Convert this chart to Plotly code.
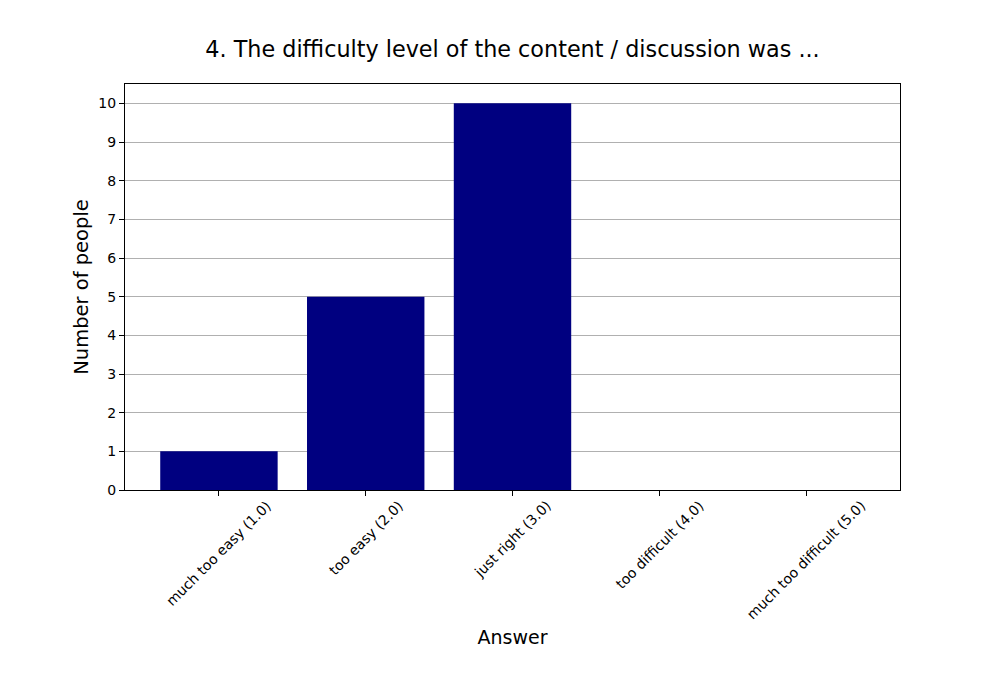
import plotly.graph_objects as go

# Survey answers and counts.
answers = ["much too easy (1.0)", "too easy (2.0)", "just right (3.0)",
           "too difficult (4.0)", "much too difficult (5.0)"]
counts = [1, 5, 10, 0, 0]
y_ticks = list(range(0, 11))

font = "DejaVu Sans"

fig = go.Figure(go.Bar(x=answers, y=counts, width=0.8,
                       marker=dict(color="#000080", line_width=0)))

# Rotated tick labels centred on each tick, like matplotlib rotation=45.
for a in answers:
    fig.add_annotation(x=a, xref="x", y=-0.012, yref="paper",
                       text=a, textangle=-45, showarrow=False,
                       xanchor="center", yanchor="top",
                       font=dict(family=font, size=14, color="black"))

fig.update_layout(
    width=1000, height=700,
    margin=dict(l=117, r=108, t=76, b=218),
    paper_bgcolor="white", plot_bgcolor="white",
    font=dict(family=font, color="black"),
    showlegend=False,
    title=dict(text="4. The difficulty level of the content / discussion was ...",
               xref="paper", x=0.5, xanchor="center",
               y=0.941, yanchor="middle",
               font=dict(family=font, size=22.3, color="black")),
    bargap=0.2,
)

fig.update_xaxes(
    range=[-0.64, 4.64], showticklabels=False,
    ticks="outside", ticklen=5, tickcolor="black",
    showline=True, linecolor="black", linewidth=1, mirror=True,
    showgrid=False,
    title=dict(text="Answer", font=dict(family=font, size=19), standoff=135),
)
fig.update_yaxes(
    range=[0, 10.5], tickvals=y_ticks,
    ticks="outside", ticklen=5, tickcolor="black",
    tickfont=dict(family=font, size=14),
    showline=True, linecolor="black", linewidth=1, mirror=True,
    showgrid=True, gridcolor="#b0b0b0", gridwidth=1,
    zeroline=False,
    title=dict(text="Number of people", font=dict(family=font, size=19.5), standoff=4),
)

fig.write_html("out.html")
